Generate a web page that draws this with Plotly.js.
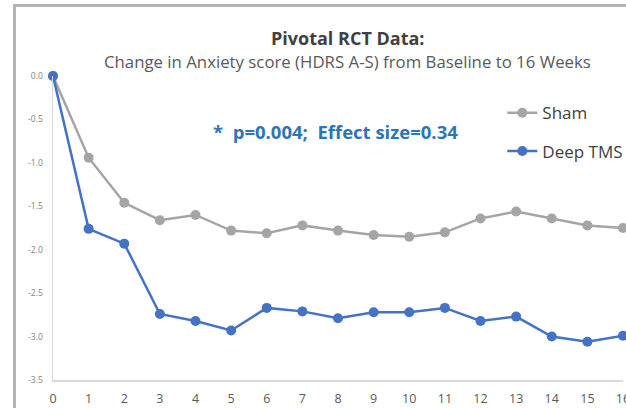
<!DOCTYPE html>
<html>
<head>
<meta charset="utf-8">
<script src="https://cdn.plot.ly/plotly-3.0.1.min.js"></script>
<style>
html,body{margin:0;padding:0;background:#fff;overflow:hidden;width:626px;height:408px;}
#frame{position:absolute;left:13px;top:4px;width:700px;height:500px;border:3px solid #b3b3b3;box-sizing:border-box;}
#chart{position:absolute;left:0;top:0;}
</style>
</head>
<body>
<div id="frame"></div>
<div id="chart"></div>
<script>
const weeks = [0,1,2,3,4,5,6,7,8,9,10,11,12,13,14,15,16];
const sham = [0.0,-0.94,-1.46,-1.66,-1.60,-1.78,-1.81,-1.72,-1.78,-1.83,-1.85,-1.80,-1.64,-1.56,-1.64,-1.72,-1.75];
const deepTMS = [0.0,-1.76,-1.93,-2.74,-2.82,-2.93,-2.67,-2.71,-2.79,-2.72,-2.72,-2.67,-2.82,-2.77,-3.00,-3.06,-2.99];
const yTickVals = [0,-0.5,-1,-1.5,-2,-2.5,-3,-3.5];
const yTickText = ["0.0","-0.5","-1.0","-1.5","-2.0","-2.5","-3.0","-3.5"];
const seriesNames = ["Sham","Deep TMS"];
const titleText = "Pivotal RCT Data:";
const subtitleText = "Change in Anxiety score (HDRS A-S) from Baseline to 16 Weeks";
const noteText = "*  p=0.004;  Effect size=0.34";

const W = 660, H = 420;
const L = 53, T = 75.7, PW = 569.6, PH = 304.3;
function px2x(p){ return (p - L) / PW; }
function py2y(p){ return (T + PH - p) / PH; }

const traces = [
  {x: weeks, y: sham, name: seriesNames[0], type: 'scatter', mode: 'lines+markers',
   legendgroup: 'a',
   line: {color: '#a5a5a5', width: 2.5}, marker: {color: '#a5a5a5', size: 10}, cliponaxis: false},
  {x: weeks, y: deepTMS, name: seriesNames[1], type: 'scatter', mode: 'lines+markers',
   legendgroup: 'b',
   line: {color: '#4472c4', width: 2.5}, marker: {color: '#4472c4', size: 10}, cliponaxis: false}
];

const layout = {
  width: W, height: H,
  margin: {l: L, t: T, r: W - L - PW, b: H - T - PH, pad: 0},
  paper_bgcolor: 'rgba(0,0,0,0)', plot_bgcolor: 'rgba(0,0,0,0)',
  font: {family: '"Open Sans", Lato, sans-serif', color: '#595959'},
  showlegend: true,
  legend: {x: px2x(502), y: py2y(95), xanchor: 'left', yanchor: 'top',
    font: {size: 17, color: '#404040'}, bgcolor: 'rgba(0,0,0,0)',
    traceorder: 'grouped', tracegroupgap: 13, itemwidth: 30},
  xaxis: {range: [0, 16], tickvals: weeks, ticks: '', showgrid: false, zeroline: false,
    showline: true, linecolor: '#d9d9d9', linewidth: 1.5,
    tickfont: {size: 12.5, color: '#595959'}, ticklabelstandoff: 6, fixedrange: true},
  yaxis: {range: [-3.5, 0], tickvals: yTickVals, ticktext: yTickText, ticks: '', showgrid: false,
    zeroline: false, showline: true, linecolor: '#d9d9d9', linewidth: 1.5,
    tickfont: {size: 8.5, color: '#7f7f7f'}, ticklabelstandoff: 7, fixedrange: true},
  annotations: [
    {text: '<b>' + titleText + '</b>', xref: 'paper', yref: 'paper', x: px2x(348), y: py2y(38),
     xanchor: 'center', yanchor: 'middle', showarrow: false, font: {size: 18, color: '#404040'}},
    {text: subtitleText, xref: 'paper', yref: 'paper', x: px2x(347), y: py2y(61),
     xanchor: 'center', yanchor: 'middle', showarrow: false, font: {size: 16.8, color: '#595959'}},
    {text: '<b>' + noteText + '</b>', xref: 'paper', yref: 'paper', x: px2x(335), y: py2y(131),
     xanchor: 'center', yanchor: 'middle', showarrow: false, font: {size: 18.5, color: '#2e75b6'}}
  ]
};

Plotly.newPlot('chart', traces, layout, {displayModeBar: false, staticPlot: true});
</script>
</body>
</html>
